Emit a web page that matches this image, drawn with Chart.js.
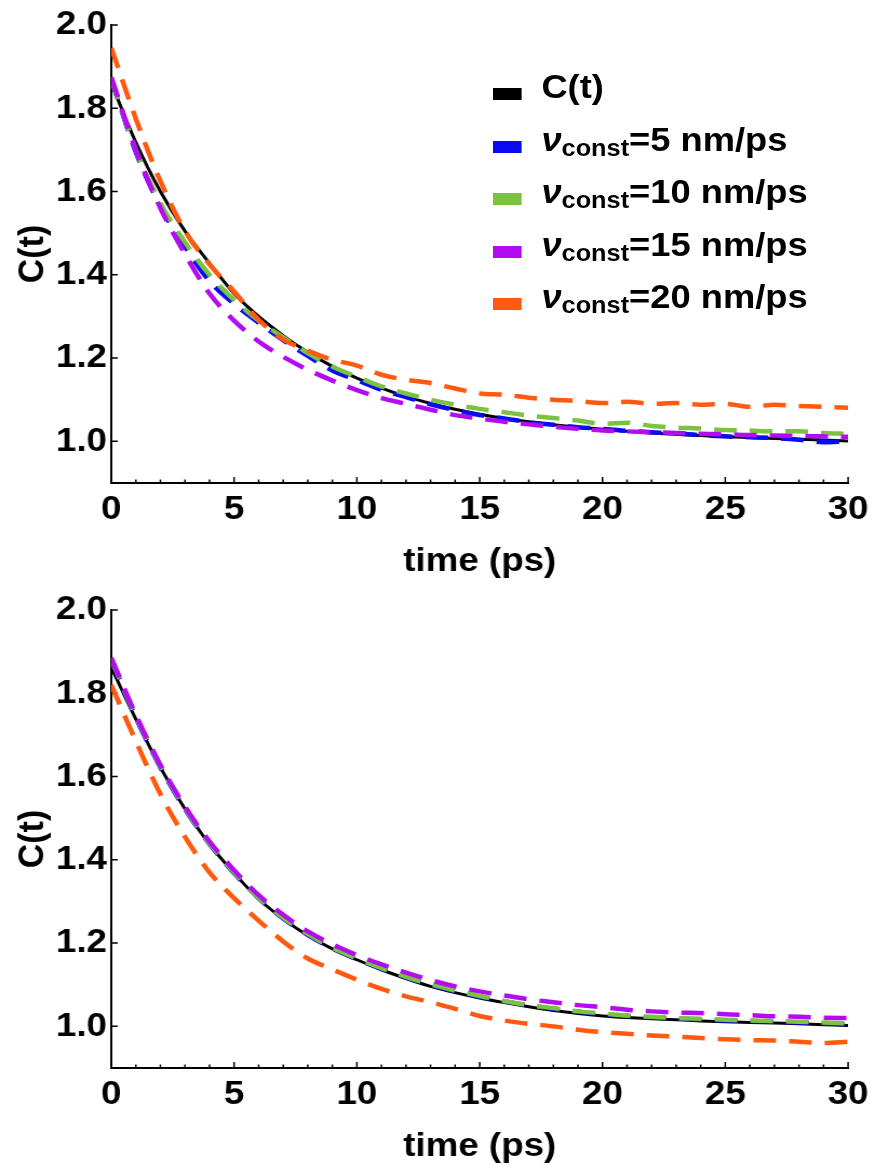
<!DOCTYPE html>
<html>
<head>
<meta charset="utf-8">
<script src="https://cdn.jsdelivr.net/npm/chart.js@4.4.1/dist/chart.umd.min.js"></script>
<style>
html,body{margin:0;padding:0;background:#fff;overflow:hidden;}
#wrap{position:relative;width:875px;height:1166px;overflow:hidden;}
canvas{position:absolute;left:0;}
#c1{top:0;}
#c2{top:585px;}
#legend{position:absolute;left:493px;top:68px;transform:scaleX(1.1);transform-origin:0 0;
  font-family:'Liberation Sans',Arial,Helvetica,sans-serif;font-weight:bold;font-size:33px;color:#000;}
.lrow{position:relative;height:52.5px;width:300px;}
.sw{position:absolute;left:0;top:20px;width:26px;height:12px;}
.lt{position:absolute;left:44px;top:2px;line-height:1;white-space:nowrap;}
.lt i{font-style:italic;}
.lt sub{font-size:23px;vertical-align:baseline;position:relative;top:0.22em;}
</style>
</head>
<body>
<div id="wrap">
  <canvas id="c1" width="810" height="585" style="width:875px;height:585px;"></canvas>
  <canvas id="c2" width="810" height="585" style="width:875px;height:585px;"></canvas>
  <div id="legend"></div>
</div>
<script>
// ---------- data ----------
const times = [0,1,2,3,4,5,6,7,8,9,10,11,12,13,14,15,16,17,18,19,20,21,22,23,24,25,26,27,28,29,30];
const xTickLabels = [0,5,10,15,20,25,30];
const yTickLabels = [1.0,1.2,1.4,1.6,1.8,2.0];
const speeds = [5,10,15,20];
const curveName = 'C(t)';

// top panel
const topCt  = [1.860,1.718,1.600,1.505,1.428,1.355,1.300,1.254,1.214,1.180,1.152,1.128,1.108,1.091,1.077,1.065,1.055,1.047,1.040,1.034,1.029,1.024,1.020,1.017,1.014,1.011,1.009,1.007,1.005,1.003,1.001];
const topV5  = [1.870,1.695,1.565,1.468,1.385,1.330,1.285,1.243,1.205,1.170,1.147,1.124,1.106,1.089,1.075,1.063,1.055,1.046,1.040,1.034,1.030,1.025,1.022,1.019,1.015,1.012,1.010,1.008,1.004,0.998,1.000];
const topV10 = [1.870,1.700,1.572,1.478,1.400,1.340,1.290,1.250,1.212,1.180,1.155,1.132,1.115,1.100,1.088,1.078,1.070,1.062,1.056,1.050,1.042,1.045,1.037,1.033,1.031,1.027,1.026,1.024,1.024,1.020,1.018];
const topV15 = [1.875,1.700,1.560,1.450,1.355,1.290,1.240,1.203,1.172,1.146,1.123,1.104,1.090,1.076,1.063,1.055,1.047,1.041,1.035,1.030,1.026,1.024,1.022,1.020,1.018,1.017,1.015,1.014,1.013,1.012,1.011];
const topV20 = [1.945,1.775,1.625,1.505,1.425,1.360,1.292,1.245,1.218,1.196,1.182,1.160,1.148,1.140,1.127,1.115,1.112,1.105,1.100,1.097,1.092,1.095,1.090,1.092,1.088,1.090,1.083,1.088,1.085,1.083,1.081];

// bottom panel
const botCt  = [1.862,1.738,1.622,1.522,1.437,1.368,1.306,1.258,1.218,1.186,1.160,1.136,1.115,1.096,1.081,1.068,1.057,1.047,1.038,1.031,1.025,1.021,1.018,1.016,1.013,1.011,1.009,1.008,1.006,1.004,1.002];
const botV5  = [1.880,1.742,1.622,1.522,1.438,1.368,1.308,1.259,1.220,1.187,1.161,1.138,1.117,1.099,1.084,1.071,1.060,1.050,1.042,1.035,1.029,1.025,1.021,1.019,1.016,1.014,1.013,1.011,1.009,1.007,1.005];
const botV10 = [1.882,1.745,1.625,1.524,1.440,1.370,1.309,1.261,1.222,1.189,1.163,1.140,1.119,1.101,1.086,1.073,1.061,1.051,1.044,1.036,1.031,1.026,1.023,1.020,1.018,1.016,1.014,1.013,1.011,1.009,1.007];
const botV15 = [1.885,1.748,1.628,1.528,1.444,1.375,1.315,1.268,1.228,1.197,1.171,1.149,1.129,1.111,1.096,1.084,1.074,1.065,1.058,1.051,1.046,1.040,1.036,1.033,1.032,1.029,1.027,1.024,1.023,1.021,1.020];
const botV20 = [1.820,1.685,1.558,1.455,1.370,1.308,1.254,1.204,1.163,1.137,1.112,1.090,1.072,1.058,1.042,1.025,1.014,1.006,1.000,0.992,0.986,0.982,0.978,0.975,0.972,0.969,0.967,0.966,0.963,0.960,0.963];

// ---------- styles ----------
const colors = ['#000000','#0a0af5','#7cc242','#b40cf0','#ff5a0f'];
const FONT = "'Liberation Sans', Arial, Helvetica, sans-serif";

function toPts(arr){ return times.map((t,i)=>({x:t,y:arr[i]})); }

function makeDatasets(series){
  return series.map((arr,i)=>({
    label: i===0 ? curveName : ('v=' + speeds[i-1]),
    data: toPts(arr),
    borderColor: colors[i],
    backgroundColor: colors[i],
    borderWidth: i===0 ? 3 : 4.5,
    borderDash: i===0 ? [] : [21,12],
    pointRadius: 0,
    fill: false,
    cubicInterpolationMode: 'monotone',
    order: series.length - i
  }));
}

const inwardTicks = {
  id:'inwardTicks',
  beforeDatasetsDraw(chart){
    const {ctx, chartArea:a, scales:{x,y}} = chart;
    ctx.save();
    ctx.strokeStyle = '#000';
    ctx.lineWidth = 1.5;
    ctx.beginPath();
    for (let t = x.min; t <= x.max; t += 1){
      const px = x.getPixelForValue(t);
      const len = xTickLabels.includes(t) ? 6 : 3.5;
      ctx.moveTo(px, a.bottom); ctx.lineTo(px, a.bottom - len);
    }
    yTickLabels.forEach(v=>{
      const py = y.getPixelForValue(v);
      ctx.moveTo(a.left, py); ctx.lineTo(a.left + 6, py);
    });
    ctx.stroke();
    ctx.restore();
  }
};

function makeChart(id, series){
  return new Chart(document.getElementById(id), {
    type:'line',
    data:{ datasets: makeDatasets(series) },
    options:{
      responsive:false,
      animation:false,
      devicePixelRatio:1,
      layout:{padding:{top:25,right:24,left:0,bottom:0}},
      plugins:{legend:{display:false}, tooltip:{enabled:false}},
      scales:{
        x:{
          type:'linear', min:0, max:30,
          afterBuildTicks(s){ s.ticks = xTickLabels.map(v=>({value:v})); },
          afterFit(s){ s.height = 102; },
          ticks:{color:'#000', font:{family:FONT, size:34, weight:'bold'}, padding:6, maxRotation:0, autoSkip:false,
                 callback:(v)=>String(v)},
          grid:{display:false, drawTicks:false},
          border:{display:true, color:'#000', width:2},
          title:{display:true, text:'time (ps)', color:'#000', font:{family:FONT, size:34, weight:'bold'}, padding:{top:0,bottom:3}}
        },
        y:{
          type:'linear', min:0.9, max:2.0,
          afterBuildTicks(s){ s.ticks = yTickLabels.map(v=>({value:v})); },
          afterFit(s){ s.width = 103; },
          ticks:{color:'#000', font:{family:FONT, size:34, weight:'bold'}, padding:4, autoSkip:false,
                 callback:(v)=>Number(v).toFixed(1)},
          grid:{display:false, drawTicks:false},
          border:{display:true, color:'#000', width:2},
          title:{display:true, text:'C(t)', color:'#000', font:{family:FONT, size:34, weight:'bold'}, padding:{top:10,bottom:0}}
        }
      }
    },
    plugins:[inwardTicks]
  });
}

const chartTop = makeChart('c1', [topCt, topV5, topV10, topV15, topV20]);
const chartBot = makeChart('c2', [botCt, botV5, botV10, botV15, botV20]);

// ---------- legend (HTML, built from the chart's datasets) ----------
const legend = document.getElementById('legend');
chartTop.data.datasets.forEach((ds,i)=>{
  const row = document.createElement('div'); row.className='lrow';
  const sw = document.createElement('div'); sw.className='sw'; sw.style.background = ds.borderColor;
  const lt = document.createElement('div'); lt.className='lt';
  if (i===0){ lt.textContent = curveName; }
  else { lt.innerHTML = '<i>\u03BD</i><sub>const</sub>=' + speeds[i-1] + ' nm/ps'; }
  row.appendChild(sw); row.appendChild(lt); legend.appendChild(row);
});
</script>
</body>
</html>
